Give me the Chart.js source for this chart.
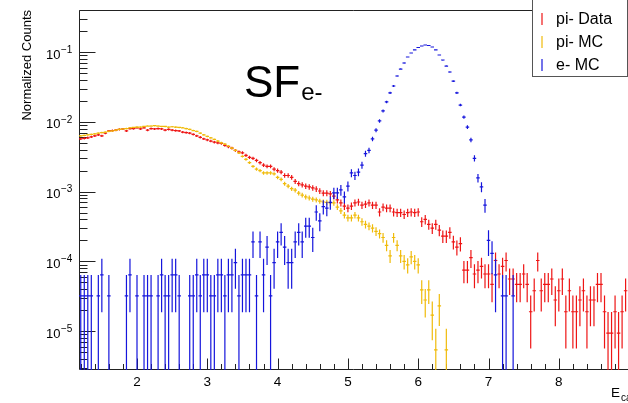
<!DOCTYPE html>
<html>
<head>
<meta charset="utf-8">
<script src="https://cdn.jsdelivr.net/npm/chart.js@4.4.1/dist/chart.umd.min.js"></script>
<style>
  html, body { margin: 0; padding: 0; background: #fff; overflow: hidden; }
  #wrap { width: 628px; height: 403px; overflow: hidden; }
</style>
</head>
<body>
<div id="wrap"><canvas id="sfChart" width="628" height="403"></canvas></div>
<script>
// histogram binning (bin i is centred at binLow + binWidth*(i+0.5))
const binLow = 1.175
const binWidth = 0.05

const seriesLabels = ['pi- Data', 'pi- MC', 'e- MC']

// normalized counts per bin (null = empty bin)
const piDataValues = [
  0.0057, 0.0058, 0.0059, 0.0061, 0.0063, 0.0065, 0.0063, 0.0069, 0.0074, 0.0075,
  0.0076, 0.0078, 0.0079, 0.0074, 0.0080, 0.0080, 0.0082, 0.0079, 0.0082, 0.0076,
  0.0080, 0.0079, 0.0080, 0.0079, 0.0076, 0.0078, 0.0076, 0.0075, 0.0074, 0.0071,
  0.0070, 0.0069, 0.0066, 0.0063, 0.0060, 0.0057, 0.0055, 0.0053, 0.0051, 0.0050,
  0.0049, 0.0046, 0.0044, 0.0042, 0.0039, 0.0037, 0.0036, 0.0033, 0.0031, 0.0030,
  0.0028, 0.0026, 0.0024, 0.0023, 0.0023, 0.0021, 0.0020, 0.0019, 0.0017, 0.0017,
  0.0016, 0.0014, 0.0013, 0.00125, 0.0012, 0.00117, 0.00113, 0.00109, 0.00102, 0.00095,
  0.00095, 0.00093, 0.00086, 0.00076, 0.00069, 0.00062, 0.00058, 0.00062, 0.00069, 0.00071,
  0.00064, 0.00066, 0.00069, 0.00064, 0.00064, 0.00051, 0.00060, 0.00058, 0.00058, 0.00051,
  0.00050, 0.00050, 0.00047, 0.00050, 0.00051, 0.00050, 0.00051, 0.00037, 0.00040, 0.00034,
  0.00030, 0.00034, 0.00028, 0.00023, 0.00023, 0.00026, 0.00019, 0.00016, 0.00018, 7.5e-5,
  7.5e-5, 1.13e-4, 6.6e-5, 7.5e-5, 8.5e-5, 6.6e-5, 6.6e-5, 4.7e-5, 1.03e-4, 6.6e-5,
  8.5e-5, 1.03e-4, 5.6e-5, 5.6e-5, 4.7e-5, 4.7e-5, 6.6e-5, 4.7e-5, 1.9e-5, 3.8e-5,
  1.03e-4, 3.8e-5, 4.7e-5, 4.7e-5, 5.6e-5, 2.8e-5, 3.8e-5, 5.6e-5, 1.9e-5, 3.8e-5,
  1.9e-5, 1.9e-5, 2.8e-5, 3.8e-5, 1.9e-5, 2.8e-5, 2.8e-5, 4.7e-5, 4.7e-5, 1.9e-5,
  9.4e-6, 9.4e-6, 1.9e-5, 9.4e-6, 1.9e-5, 3.8e-5
]

const piMcValues = [
  0.0063, 0.0064, 0.0065, 0.0066, 0.0067, 0.0069, 0.0070, 0.0071, 0.0073, 0.0074,
  0.0076, 0.0078, 0.0079, 0.0080, 0.0082, 0.0083, 0.0084, 0.0084, 0.0086, 0.0087,
  0.0087, 0.0088, 0.0087, 0.0086, 0.0086, 0.0084, 0.0085, 0.0084, 0.0083, 0.0082,
  0.0080, 0.0078, 0.0075, 0.0073, 0.0069, 0.0065, 0.0062, 0.0059, 0.0056, 0.0053,
  0.0050, 0.0048, 0.0045, 0.0042, 0.0039, 0.0036, 0.0032, 0.0029, 0.0026, 0.0023,
  0.0021, 0.0020, 0.00185, 0.00185, 0.00185, 0.0018, 0.0016, 0.0015, 0.0013, 0.0012,
  0.0011, 0.00105, 0.00095, 0.00089, 0.00084, 0.00081, 0.00078, 0.00076, 0.00073, 0.00071,
  0.00070, 0.00069, 0.00069, 0.00060, 0.00053, 0.00046, 0.00042, 0.00042, 0.00046, 0.00042,
  0.00037, 0.00034, 0.00032, 0.00030, 0.00027, 0.00025, 0.00022, 0.00017, 0.00012, 0.00022,
  0.00017, 0.00012, 0.00010, 8.9e-5, 1.16e-4, 1.0e-4, 8.9e-5, 3.9e-5, 2.8e-5, 3.9e-5,
  1.7e-5, 5.4e-6, 2.3e-5, null, 5.4e-6, null, null, null, null, null,
  null, null, null, null, null, null, null, null, null, null,
  null, null, null, null, null, null, null, null, null, null,
  null, null, null, null, null, null, null, null, null, null,
  null, null, null, null, null, null, null, null, null, null,
  null, null, null, null, null, null
]

const eMcValues = [
  3.2e-5, 3.2e-5, 3.2e-5, 3.2e-5, null, 3.2e-5, 6.4e-5, null, 3.2e-5, null,
  null, null, null, 3.2e-5, 6.4e-5, null, 3.2e-5, null, 3.2e-5, 3.2e-5,
  3.2e-5, null, 3.2e-5, 6.4e-5, 3.2e-5, 3.2e-5, 6.4e-5, 6.4e-5, 3.2e-5, null,
  null, 3.2e-5, 3.2e-5, 6.4e-5, 3.2e-5, 6.4e-5, 6.4e-5, 3.2e-5, 3.2e-5, 6.4e-5,
  6.4e-5, 3.2e-5, 6.4e-5, 6.4e-5, 9.6e-5, 3.2e-5, 6.4e-5, 6.4e-5, 6.4e-5, 1.9e-4,
  3.2e-5, 1.9e-4, 6.4e-5, 1.6e-4, 3.2e-5, 9.6e-5, 1.9e-4, 2.6e-4, 1.6e-4, 9.6e-5,
  9.6e-5, 1.9e-4, 2.6e-4, 1.9e-4, 3.2e-4, 3.2e-4, 2.2e-4, 5.1e-4, 3.8e-4, 6.1e-4,
  5.8e-4, 7.0e-4, 9.6e-4, 9.6e-4, 1.06e-3, 8.4e-4, 1.2e-3, 1.85e-3, 1.7e-3, 1.9e-3,
  2.4e-3, 3.5e-3, 3.9e-3, 5.7e-3, 7.6e-3, 1.03e-2, 1.43e-2, 1.93e-2, 2.6e-2, 3.26e-2,
  4.53e-2, 5.7e-2, 6.96e-2, 8.48e-2, 9.68e-2, 0.107, 0.116, 0.122, 0.126, 0.124,
  0.118, 0.107, 0.0906, 0.0768, 0.063, 0.0517, 0.0384, 0.026, 0.0174, 0.0117,
  0.0084, 0.0055, 0.0030, 1.57e-3, 1.17e-3, 6.4e-4, 2.0e-4, 1.3e-4, 6.4e-5, null,
  3.2e-5, 3.2e-5, null, 3.2e-5, null, null, null, null, null, null,
  null, null, null, null, null, null, null, null, null, null,
  null, null, null, null, null, null, null, null, null, null,
  null, null, null, null, null, null
]

// weight of a single entry in each histogram (lowest filled level seen in the plot),
// used for the sqrt(sum w^2) error bars
const piDataWeight = 9.4e-6
const piMcWeight = 5.4e-6
const eMcWeight = 3.2e-5

const xTickValues = [2, 3, 4, 5, 6, 7, 8]
const yTickExponents = [-5, -4, -3, -2, -1]

const seriesColors = ['#ee1515', '#f0bb0a', '#1515dc']
const fontFamily = '"Liberation Sans", Arial, Helvetica, sans-serif'
const axisColor = '#222'

function toPoints(values, weight) {
  const pts = []
  values.forEach((v, i) => {
    if (v === null) return
    pts.push({ x: binLow + binWidth * (i + 0.5), y: v, err: Math.sqrt(v * weight) })
  })
  return pts
}

// ROOT style frame: ticks inside the frame, 10^n labels
const rootAxes = {
  id: 'rootAxes',
  beforeDatasetsDraw(chart) {
    const { ctx, chartArea: a, scales: { x, y } } = chart
    ctx.save()
    ctx.strokeStyle = axisColor
    ctx.lineWidth = 1
    ctx.beginPath()
    ctx.moveTo(a.right, a.top + 0.5)
    ctx.lineTo(a.left + 0.5, a.top + 0.5)
    ctx.lineTo(a.left + 0.5, a.bottom - 0.5)
    ctx.lineTo(a.right, a.bottom - 0.5)

    for (let i = Math.ceil(x.min * 5); i <= Math.floor(x.max * 5); i++) {
      const px = Math.round(x.getPixelForValue(i / 5)) + 0.5
      const len = i % 5 === 0 ? 11 : 5.5
      ctx.moveTo(px, a.bottom - 0.5)
      ctx.lineTo(px, a.bottom - 0.5 - len)
    }
    for (let e = -7; e <= 0; e++) {
      for (let m = 1; m <= 9; m++) {
        const v = m * Math.pow(10, e)
        if (v < y.min || v > y.max) continue
        const py = Math.round(y.getPixelForValue(v)) + 0.5
        const len = m === 1 ? 16 : 8
        ctx.moveTo(a.left + 0.5, py)
        ctx.lineTo(a.left + 0.5 + len, py)
      }
    }
    ctx.stroke()

    ctx.fillStyle = '#000'
    ctx.textBaseline = 'middle'
    yTickExponents.forEach(e => {
      const py = y.getPixelForValue(Math.pow(10, e))
      ctx.font = '13px ' + fontFamily
      ctx.textAlign = 'right'
      ctx.fillText('10', 60.5, py + 3)
      ctx.font = '10px ' + fontFamily
      ctx.textAlign = 'left'
      ctx.fillText('\u2212' + Math.abs(e), 61, py - 2)
    })
    ctx.restore()
  }
}

// error bars: vertical +-err, horizontal over the bin width
const errorBars = {
  id: 'errorBars',
  afterDatasetsDraw(chart) {
    const { ctx, chartArea: a, scales: { x, y } } = chart
    ctx.save()
    ctx.beginPath()
    ctx.rect(a.left, a.top, a.right - a.left, a.bottom - a.top)
    ctx.clip()
    ctx.lineWidth = 1.2
    chart.data.datasets.forEach(ds => {
      ctx.strokeStyle = ds.borderColor
      ctx.beginPath()
      ds.data.forEach(p => {
        const px = x.getPixelForValue(p.x)
        const py = y.getPixelForValue(p.y)
        const lo = p.y - p.err
        const pyLo = lo > 1e-12 ? y.getPixelForValue(lo) : a.bottom
        const pyHi = y.getPixelForValue(p.y + p.err)
        ctx.moveTo(px, pyLo)
        ctx.lineTo(px, pyHi)
        ctx.moveTo(x.getPixelForValue(p.x - binWidth / 2), py)
        ctx.lineTo(x.getPixelForValue(p.x + binWidth / 2), py)
      })
      ctx.stroke()
    })
    ctx.restore()
  }
}

// legend box + texts
const rootLegend = {
  id: 'rootLegend',
  afterDraw(chart) {
    const ctx = chart.ctx
    ctx.save()
    ctx.fillStyle = '#fff'
    ctx.fillRect(532, -1, 96, 78)
    ctx.strokeStyle = '#555'
    ctx.lineWidth = 1
    ctx.strokeRect(532.5, -0.5, 95, 77)
    chart.data.datasets.forEach((ds, i) => {
      const cy = 19 + i * 23
      ctx.strokeStyle = ds.borderColor
      ctx.lineWidth = 1.2
      ctx.beginPath()
      ctx.moveTo(542, cy - 6)
      ctx.lineTo(542, cy + 6)
      ctx.stroke()
      ctx.fillStyle = '#000'
      ctx.font = '16px ' + fontFamily
      ctx.textBaseline = 'middle'
      ctx.textAlign = 'left'
      ctx.fillText(ds.label, 556, cy + 1)
    })

    // big label SF_e-
    ctx.fillStyle = '#000'
    ctx.textBaseline = 'alphabetic'
    ctx.font = '44px ' + fontFamily
    ctx.fillText('SF', 244, 97)
    const w = ctx.measureText('SF').width
    ctx.font = '24px ' + fontFamily
    ctx.fillText('e-', 244 + w + 1, 100)

    // x axis title (runs off the right edge)
    ctx.font = '13.5px ' + fontFamily
    ctx.fillText('E', 611, 397)
    const wE = ctx.measureText('E').width
    ctx.font = '10px ' + fontFamily
    ctx.fillText('cal', 611 + wE + 1, 401)
    ctx.restore()
  }
}

const ctx = document.getElementById('sfChart').getContext('2d')

const sfChart = new Chart(ctx, {
  type: 'scatter',
  data: {
    datasets: [
      { label: seriesLabels[0], data: toPoints(piDataValues, piDataWeight), borderColor: seriesColors[0], backgroundColor: seriesColors[0], pointRadius: 0, pointHoverRadius: 0 },
      { label: seriesLabels[1], data: toPoints(piMcValues, piMcWeight), borderColor: seriesColors[1], backgroundColor: seriesColors[1], pointRadius: 0, pointHoverRadius: 0 },
      { label: seriesLabels[2], data: toPoints(eMcValues, eMcWeight), borderColor: seriesColors[2], backgroundColor: seriesColors[2], pointRadius: 0, pointHoverRadius: 0 }
    ]
  },
  options: {
    responsive: false,
    animation: false,
    layout: { padding: { top: 10, right: 0, bottom: 0, left: 0 } },
    plugins: {
      legend: { display: false },
      tooltip: { enabled: false }
    },
    scales: {
      x: {
        type: 'linear',
        min: 1.175,
        max: 8.984,
        grid: { display: false, drawTicks: false },
        border: { display: false },
        afterBuildTicks: scale => { scale.ticks = xTickValues.map(v => ({ value: v })) },
        afterFit: scale => { scale.height = 33 },
        ticks: {
          color: '#000',
          font: { family: fontFamily, size: 13.5 },
          padding: 4,
          maxRotation: 0,
          autoSkip: false
        }
      },
      y: {
        type: 'logarithmic',
        min: 2.78e-6,
        max: 0.4,
        grid: { display: false, drawTicks: false },
        border: { display: false },
        afterBuildTicks: scale => { scale.ticks = yTickExponents.map(e => ({ value: Math.pow(10, e) })) },
        afterFit: scale => { scale.width = 79 },
        ticks: { display: false },
        title: {
          display: true,
          text: 'Normalized Counts',
          align: 'end',
          color: '#000',
          font: { family: fontFamily, size: 13 },
          padding: { top: 20, bottom: 0 }
        }
      }
    }
  },
  plugins: [rootAxes, errorBars, rootLegend]
})
</script>
</body>
</html>
